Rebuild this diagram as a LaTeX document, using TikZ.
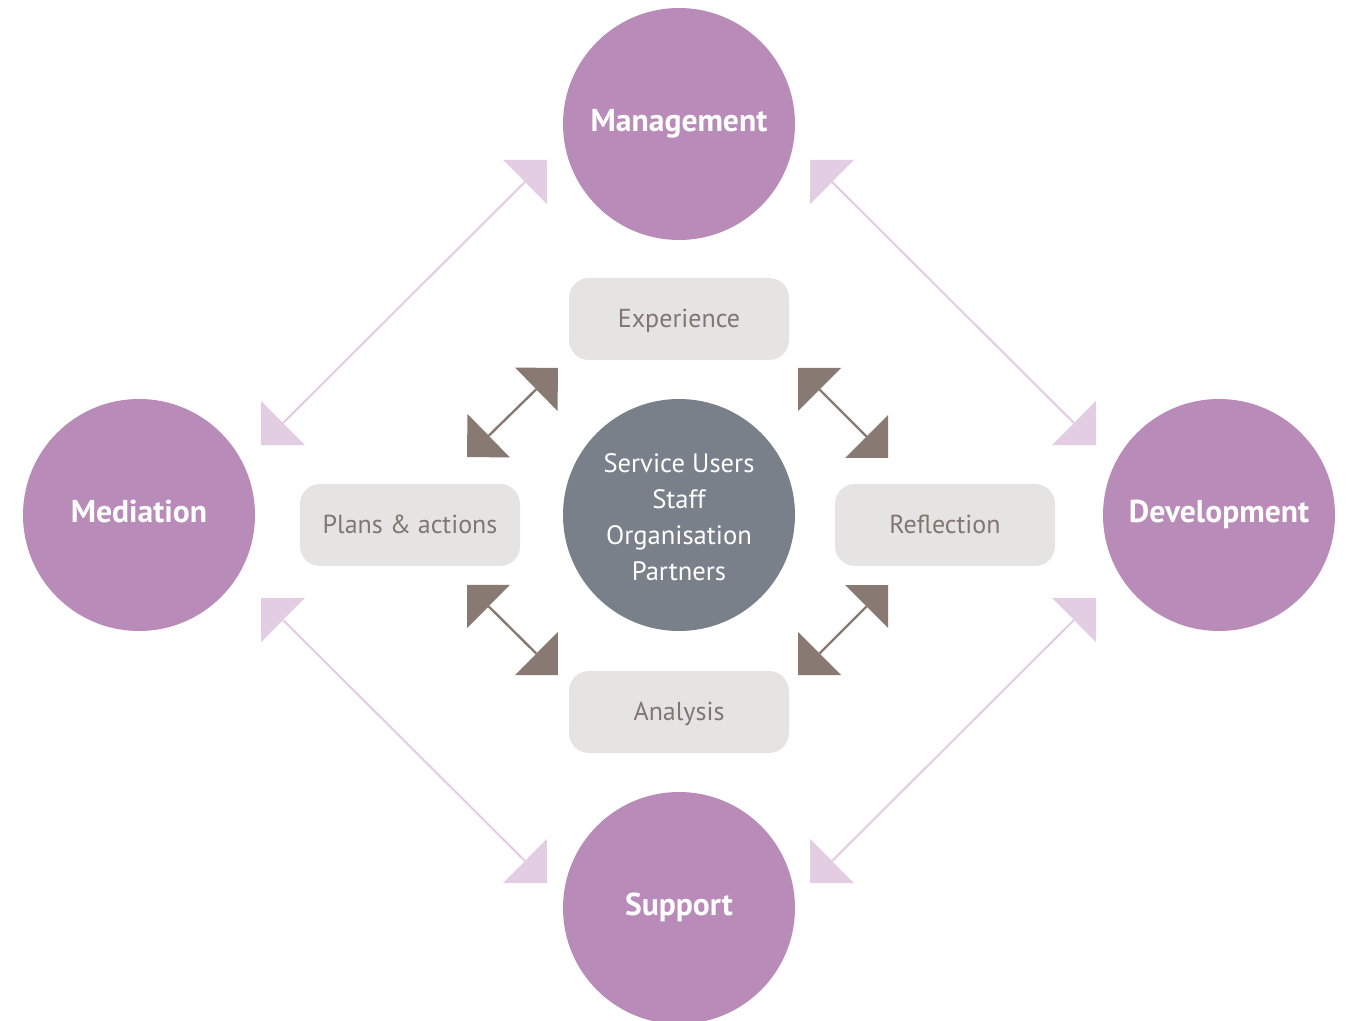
\documentclass[tikz,border=0pt]{standalone}
\usepackage{fontspec}
\setmainfont{PT Sans}
\usetikzlibrary{arrows.meta}
\definecolor{purp}{RGB}{185,139,184}
\definecolor{cgray}{RGB}{121,128,137}
\definecolor{boxfill}{RGB}{230,228,227}
\definecolor{boxtext}{RGB}{128,118,114}
\definecolor{darkarr}{RGB}{136,122,114}
\definecolor{lightarr}{RGB}{226,205,226}
\tikzset{
  bigc/.style={circle, fill=purp, draw=none, minimum size=116pt, inner sep=0pt},
  bigtxt/.style={inner sep=0pt, yshift=2pt, text=white, text height=11.4pt, text depth=0pt,
    font=\bfseries\fontsize{15.8}{18}\selectfont},
  centc/.style={circle, fill=cgray, draw=none, minimum size=116pt, inner sep=0pt},
  centtxt/.style={inner sep=0pt, yshift=-1pt, text=white, align=center,
    font=\fontsize{13.3}{18}\selectfont},
  stagebox/.style={rectangle, rounded corners=10pt, fill=boxfill, draw=none,
    minimum width=110pt, minimum height=41pt, inner sep=0pt},
  boxtxt/.style={inner sep=0pt, yshift=-1pt, text=boxtext, text height=9.4pt, text depth=2.6pt,
    font=\fontsize{13}{15}\selectfont},
  lightlink/.style={draw=lightarr, line width=1pt,
    {Triangle[angle=90:22pt, line width=0pt]}-{Triangle[angle=90:22pt, line width=0pt]}},
  darklink/.style={draw=darkarr, line width=1.2pt,
    {Triangle[angle=90:21.5pt, line width=0pt]}-{Triangle[angle=90:21.5pt, line width=0pt]}},
}
\begin{document}
\begin{tikzpicture}[x=0.5pt, y=-0.5pt]
\useasboundingbox (0,0) rectangle (1350,1021);
\fill[white] (0,0) rectangle (1350,1021);

% light arrows (outer)
\coordinate (la1s) at (261,445); \coordinate (la1e) at (547,160);
\coordinate (la2s) at (810,160); \coordinate (la2e) at (1096,445);
\coordinate (la3s) at (261,598); \coordinate (la3e) at (547,883);
\coordinate (la4s) at (1096,598); \coordinate (la4e) at (810,883);
\draw[lightlink] (la1s) -- (la1e);
\draw[lightlink] (la2s) -- (la2e);
\draw[lightlink] (la3s) -- (la3e);
\draw[lightlink] (la4s) -- (la4e);

% dark arrows (inner)
\coordinate (da1s) at (467,457); \coordinate (da1e) at (558,368);
\coordinate (da2s) at (798,368); \coordinate (da2e) at (888,458);
\coordinate (da3s) at (467,585); \coordinate (da3e) at (558,675);
\coordinate (da4s) at (888,585); \coordinate (da4e) at (798,675);
\draw[darklink] (da1s) -- (da1e);
\draw[darklink] (da2s) -- (da2e);
\draw[darklink] (da3s) -- (da3e);
\draw[darklink] (da4s) -- (da4e);

% circles
\node[bigc] (man) at (679,124) {};
\node[bigc] (med) at (139,515) {};
\node[bigc] (dev) at (1219,515) {};
\node[bigc] (sup) at (679,908) {};
\node[centc] (cen) at (679,515) {};
\node[bigtxt] (manT) at (man.center) {Management};
\node[bigtxt] (medT) at (med.center) {Mediation};
\node[bigtxt] (devT) at (dev.center) {Development};
\node[bigtxt] (supT) at (sup.center) {Support};
\node[centtxt] (cenT) at (cen.center) {Service Users\\Staff\\Organisation\\Partners};

% boxes
\node[stagebox] (exp) at (679,319) {};
\node[stagebox] (pla) at (410,525) {};
\node[stagebox] (ref) at (945,525) {};
\node[stagebox] (ana) at (679,712) {};
\node[boxtxt] (expT) at (exp.center) {Experience};
\node[boxtxt] (plaT) at (pla.center) {Plans \& actions};
\node[boxtxt] (refT) at (ref.center) {Reflection};
\node[boxtxt] (anaT) at (ana.center) {Analysis};
\end{tikzpicture}
\end{document}
